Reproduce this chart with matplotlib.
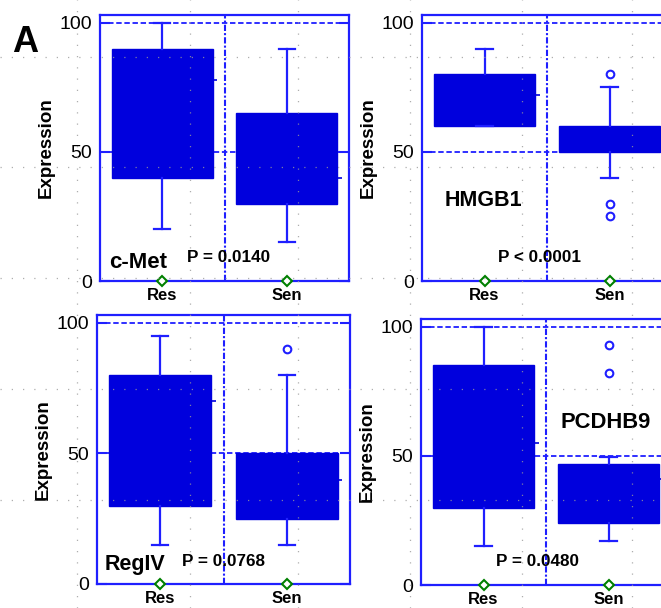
import numpy as np
import matplotlib.pyplot as plt
from matplotlib.lines import Line2D

plt.rcParams['font.family'] = ['Liberation Sans', 'DejaVu Sans']

# Data
genes = ['c-Met', 'HMGB1', 'RegIV', 'PCDHB9']
p_labels = ['P = 0.0140', 'P < 0.0001', 'P = 0.0768', 'P = 0.0480']
groups = ['Res', 'Sen']

res_q1 = [40, 60, 30, 30]
res_q3 = [90, 80, 80, 85]
res_med = [78, 72, 70, 55]
res_lo = [20, 60, 15, 15]
res_hi = [100, 90, 95, 100]
res_out = [[], [], [], []]

sen_q1 = [30, 50, 25, 24]
sen_q3 = [65, 60, 50, 47]
sen_med = [40, 55, 40, 41]
sen_lo = [15, 40, 15, 17]
sen_hi = [90, 75, 80, 49.5]
sen_out = [[], [80, 30, 25], [90], [93, 82]]

# layout (pixels of the 661x608 picture)
W, H = 661, 608
rects = [(100, 15, 249, 266), (422, 15, 250, 266),
         (97, 315, 253, 269), (421, 319, 250, 266)]
gene_pos = [(0.81, 7, 16), (0.99, 31, 15.5), (0.80, 7.5, 15.5), (1.98, 63, 15.8)]
p_pos = [(1.53, 9), (1.44, 9), (1.50, 8.5), (1.43, 9)]

blue = '#0000dd'
edge = '#1f1fff'

fig = plt.figure(figsize=(W / 100, H / 100), dpi=100)

for i, (l, t, w, h) in enumerate(rects):
    ax = fig.add_axes([l / W, 1 - (t + h) / H, w / W, h / H])
    stats = [
        dict(med=res_med[i], q1=res_q1[i], q3=res_q3[i], whislo=res_lo[i],
             whishi=res_hi[i], fliers=res_out[i], label=groups[0]),
        dict(med=sen_med[i], q1=sen_q1[i], q3=sen_q3[i], whislo=sen_lo[i],
             whishi=sen_hi[i], fliers=sen_out[i], label=groups[1]),
    ]
    pos = np.arange(1, len(groups) + 1)
    ax.bxp(stats, positions=pos, widths=0.81, capwidths=0.13, patch_artist=True,
           boxprops=dict(facecolor=blue, edgecolor=blue, lw=1),
           whiskerprops=dict(color=edge, lw=1.6),
           capprops=dict(color=edge, lw=1.6),
           medianprops=dict(color=blue, lw=1.2),
           flierprops=dict(marker='o', ms=5.5, mfc='white', mec=edge, mew=1.5))
    # small median nub at the box edge
    ax.hlines([res_med[i], sen_med[i]], pos + 0.40, pos + 0.44, color=blue, lw=1.2)

    ax.axhline(50, color=edge, lw=1.3, ls=(0, (3, 1.5)), zorder=0.5)
    ax.axhline(100, color=edge, lw=1.3, ls=(0, (3, 1.5)), zorder=0.5)
    ax.axvline(1.5, color=edge, lw=1.5, ls=(0, (3, 1, 1, 1)), zorder=0.5)

    ax.plot(pos, [0, 0], ls='none', marker='D', ms=5.5, mfc='white',
            mec='#008000', mew=1.5, clip_on=False, zorder=5)

    ax.set_xlim(0.5, 2.5)
    ax.set_ylim(0, 103)
    ax.set_yticks([0, 50, 100])
    ax.tick_params(axis='y', direction='in', length=7, width=1.5, color=edge,
                   right=True, labelsize=14, pad=6)
    ax.set_xticks(pos)
    ax.set_xticklabels(groups, fontsize=12, fontweight='bold')
    ax.tick_params(axis='x', length=0, pad=5)
    for s in ax.spines.values():
        s.set_color(edge)
        s.set_linewidth(1.6)
    ax.set_ylabel('Expression', fontsize=13.5, fontweight='bold', labelpad=3)

    gx, gy, gs = gene_pos[i]
    ax.text(gx, gy, genes[i], fontsize=gs, fontweight='bold', ha='center', va='center')
    px, py = p_pos[i]
    ax.text(px, py, p_labels[i], fontsize=12.3, fontweight='bold', ha='center', va='center')

fig.text(25 / W, 1 - 42 / H, 'A', fontsize=26, fontweight='bold', ha='center', va='center')

# dotted drawing grid over the whole picture
for y in [57, 167, 278, 389, 500]:
    fig.add_artist(Line2D([0, 1], [1 - y / H] * 2, color='#9a9a9a', lw=0.9,
                          ls=(0, (1, 8)), zorder=10, alpha=0.8))
for x in [77, 190, 298, 410, 522, 632]:
    fig.add_artist(Line2D([x / W] * 2, [0, 1], color='#9a9a9a', lw=0.9,
                          ls=(0, (1, 8)), zorder=10, alpha=0.8))

fig.savefig('out.png', dpi=100)
